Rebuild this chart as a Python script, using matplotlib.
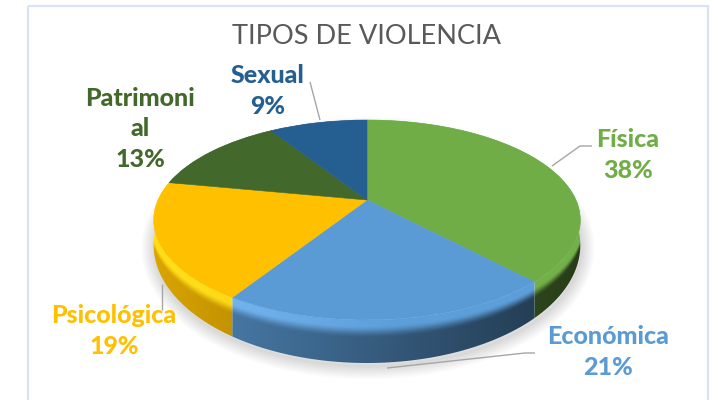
import numpy as np
import matplotlib
matplotlib.use("Agg")
import matplotlib.pyplot as plt
from matplotlib.patches import PathPatch, Rectangle
from matplotlib.path import Path
from matplotlib.transforms import Transform

categories = ["Física", "Económica", "Psicológica", "Patrimonial", "Sexual"]
label_names = ["Física", "Económica", "Psicológica", "Patrimoni\nal", "Sexual"]
values = [38, 21, 19, 13, 9]
colors = ["#70AD47", "#5B9BD5", "#FFC000", "#43682B", "#255E91"]
title = "TIPOS DE VIOLENCIA"

# pie geometry on the picture, in pixels
CX, CY = 367, 200
RX, SY, PERSP = 209, 96, 0.2


def project(xy):
    # unit circle seen in perspective, near side at the bottom
    xy = np.asarray(xy, dtype=float)
    w = 1 + PERSP * xy[..., 1]
    return np.stack([CX + RX * xy[..., 0] / w, CY - SY * xy[..., 1] / w], axis=-1)


class PieProjection(Transform):
    input_dims = 2
    output_dims = 2
    has_inverse = False
    is_affine = False

    def transform_non_affine(self, values):
        return project(values)


def lower_y(y):
    # bottom rim of the pie is a bigger ellipse, lower down
    return 245 + (y - 220) * 1.18


def smooth(a, b, v):
    s = np.clip((v - a) / (b - a), 0, 1)
    return s * s * (3 - 2 * s)


plt.rcParams["font.family"] = ["Lato", "DejaVu Sans"]
fig = plt.figure(figsize=(7.18, 4.0), dpi=100)
ax = fig.add_axes([0, 0, 1, 1])

wedges, _ = ax.pie(values, colors=colors, startangle=90, counterclock=False,
                   wedgeprops={"linewidth": 0.4}, normalize=True)
for wedge, color in zip(wedges, colors):
    wedge.set_edgecolor(color)
    wedge.set_transform(PieProjection() + ax.transData)
    wedge.set_zorder(5)

# side of the pie, one strip per slice
grid_x, grid_y = np.meshgrid(np.arange(718) + 0.5, np.arange(400) + 0.5)
sx = np.clip((grid_x - CX) / 216, -1, 1)
top_y = 220 + 100 * np.sqrt(1 - sx ** 2)
bot_y = lower_y(top_y)
t = (grid_y - top_y) / np.maximum(bot_y - top_y, 1)
shade = 0.85 - (grid_x - 160) * 0.0012
glow = np.clip((400 - grid_x) / 200, 0, 1)
mix = smooth(0.12, 0.42, t)

edges = np.cumsum([0] + values) / sum(values) * 2 * np.pi
for i, color in enumerate(colors):
    theta = np.linspace(edges[i], edges[i + 1], 120)
    rim = project(np.stack([np.sin(theta), np.cos(theta)], axis=-1))
    low = np.stack([rim[:, 0], lower_y(rim[:, 1])], axis=-1)
    strip = Path(np.vstack([rim, low[::-1], rim[:1]]), closed=True)

    base = np.array(matplotlib.colors.to_rgb(color))
    img = np.zeros((400, 718, 3))
    for c in range(3):
        light = np.clip(base[c] * 1.02 + 0.1 * glow, 0, 1)
        img[:, :, c] = light * (1 - mix) + base[c] * shade * mix
    im = ax.imshow(img, extent=(0, 718, 400, 0), aspect="auto", zorder=3, interpolation="bilinear")
    im.set_clip_path(PathPatch(strip, transform=ax.transData))

# soft shadow under the lower rim
theta = np.linspace(0, 2 * np.pi, 240)
rim = project(np.stack([np.sin(theta), np.cos(theta)], axis=-1))
outline = np.stack([rim[:, 0] + 1, lower_y(rim[:, 1]) + 3], axis=-1)
for lw in np.arange(1, 20, 1.5):
    ax.add_patch(PathPatch(Path(outline, closed=True), facecolor="none", edgecolor="black",
                           linewidth=lw, alpha=0.012, zorder=2))

# chart border, runs off the bottom of the picture
ax.add_patch(Rectangle((27.5, 6), 680, 400, facecolor="none", edgecolor="#DAE3F3", linewidth=1.6, zorder=1))

# leader lines
leaders = [
    ([552, 580, 592], [166, 146, 146]),
    ([387, 525, 535], [368, 353, 353]),
    ([162, 162], [284, 310]),
    ([310, 320], [82, 120]),
]
for lx, ly in leaders:
    ax.plot(lx, ly, color="#A6A6A6", linewidth=1.0, zorder=6, solid_capstyle="butt")

label_pos = [(628, 155), (608, 352), (114, 331), (140, 129), (268, 91)]
for name, value, color, (lx, ly) in zip(label_names, values, colors, label_pos):
    ax.text(lx, ly, f"{name}\n{value}%", color=color, fontsize=18, fontweight="black",
            ha="center", va="center", linespacing=1.42, zorder=7)

ax.text(367, 37, title, color="#595959", fontsize=19.5, ha="center", va="center", zorder=7)

ax.set_xlim(0, 718)
ax.set_ylim(400, 0)
ax.set_aspect("auto")
ax.axis("off")

fig.savefig("out.png", dpi=100, facecolor="white")
